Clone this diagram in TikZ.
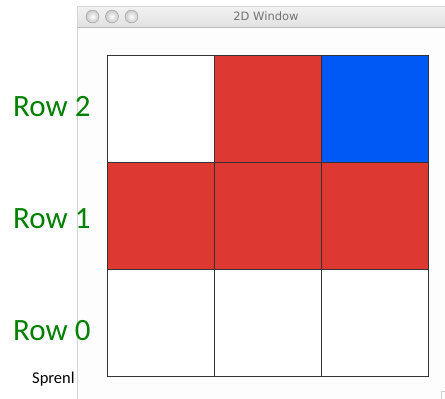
\documentclass[tikz,border=0pt]{standalone}
\usepackage{fontspec}
\setmainfont{Carlito}
\newfontfamily\titlefont{DejaVu Sans}
\usetikzlibrary{positioning}
\definecolor{cRed}{RGB}{221,57,50}
\definecolor{cBlue}{RGB}{0,88,245}
\definecolor{cGreen}{RGB}{0,128,0}
\definecolor{cBarTop}{RGB}{242,242,242}
\definecolor{cBarBot}{RGB}{226,226,226}
\definecolor{cBarLine}{RGB}{185,185,185}
\definecolor{cFrame}{RGB}{212,212,212}
\definecolor{cWin}{RGB}{253,253,253}
\tikzset{
	cell/.style  ={rectangle, draw=black!80, line width=0.8pt, minimum width=107pt, minimum height=107pt, inner sep=0pt, outer sep=0pt, fill=white},
	rowlbl/.style={anchor=base west, text=cGreen, font=\fontsize{31}{31}\selectfont, inner sep=0pt},
	winbtn/.style={circle, draw=black!40, inner color=white, outer color=black!22, minimum size=13pt, inner sep=0pt},
}
\begin{document}
\begin{tikzpicture}[x=1pt, y=-1pt]
	\useasboundingbox[fill=white] (0,0) rectangle (445,399);
	% window frame
	\fill[cWin] (77,27) rectangle (445,399);
	\shade[top color=cBarTop, bottom color=cBarBot] (77,6) rectangle (445,27);
	\draw[cFrame] (445,6) -- (77,6) -- (77,399);
	\draw[cBarLine] (77,27) -- (445,27);
	\draw[black!20] (441,399) -- (441,391) -- (445,391);
	\node[winbtn] (btn1) at (92.5,16.5) {};
	\node[winbtn] (btn2) at (112,16.5) {};
	\node[winbtn] (btn3) at (131.5,16.5) {};
	\node[font=\titlefont\fontsize{11.5}{12}\selectfont, text=black!55] (title) at (266,16.5) {2D Window};
	% grid, row 2 on top
	\node[cell] (r2c0) at (160.5,108.5) {};
	\node[cell, right=0pt of r2c0, fill=cRed] (r2c1) {};
	\node[cell, right=0pt of r2c1, fill=cBlue] (r2c2) {};
	\node[cell, below=0pt of r2c0, fill=cRed] (r1c0) {};
	\node[cell, right=0pt of r1c0, fill=cRed] (r1c1) {};
	\node[cell, right=0pt of r1c1, fill=cRed] (r1c2) {};
	\node[cell, below=0pt of r1c0] (r0c0) {};
	\node[cell, right=0pt of r0c0] (r0c1) {};
	\node[cell, right=0pt of r0c1] (r0c2) {};
	% labels
	\node[rowlbl] (row2) at (13,116) {Row 2};
	\node[rowlbl] (row1) at (13,228) {Row 1};
	\node[rowlbl] (row0) at (13,340) {Row 0};
	\node[anchor=base west, inner sep=0pt, font=\fontsize{16.5}{17}\selectfont] (spren) at (32,383) {Sprenl};
\end{tikzpicture}
\end{document}
